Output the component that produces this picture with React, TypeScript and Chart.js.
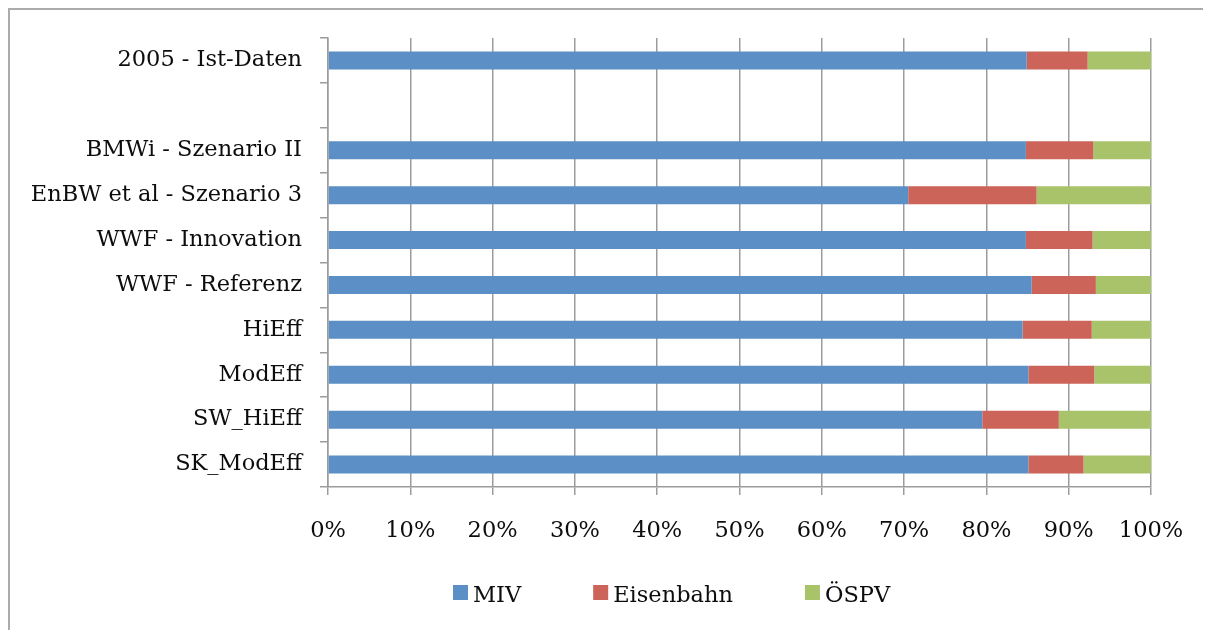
import React, { useEffect, useRef } from "react";
import { Chart, registerables } from "chart.js";

Chart.register(...registerables);

const categories = [
  "2005 - Ist-Daten",
  "",
  "BMWi - Szenario II",
  "EnBW et al - Szenario 3",
  "WWF - Innovation",
  "WWF - Referenz",
  "HiEff",
  "ModEff",
  "SW_HiEff",
  "SK_ModEff",
];

const seriesNames = ["MIV", "Eisenbahn", "ÖSPV"];

const mivValues = [84.9, null, 84.8, 70.5, 84.8, 85.5, 84.4, 85.1, 79.5, 85.1];
const eisenbahnValues = [7.4, null, 8.2, 15.6, 8.1, 7.8, 8.4, 8.0, 9.3, 6.7];
const oespvValues = [7.7, null, 7.0, 13.9, 7.1, 6.7, 7.2, 6.9, 11.2, 8.2];

const xTicks = [0, 10, 20, 30, 40, 50, 60, 70, 80, 90, 100];

const colors = ["#5b8fc6", "#cc6459", "#a9c36b"];

const FONT_FAMILY = '"DejaVu Serif", serif';
const FONT_SIZE = 22.5;
const TEXT_COLOR = "#0d0d0d";
const GRID_COLOR = "#9c9c9c";

const CANVAS_W = 1201;
const CANVAS_H = 620;

const LEGEND_CENTER_X = 661.5;
const LEGEND_BOX_Y = 582.5;
const LEGEND_TEXT_Y = 586;
const LEGEND_BOX = 15;
const LEGEND_TEXT_GAP = 5;
const LEGEND_ITEM_GAP = 72;

const legendPlugin = {
  id: "customLegend",
  afterDraw(chart: any) {
    const ctx = chart.ctx as CanvasRenderingContext2D;
    ctx.save();
    ctx.font = `${FONT_SIZE}px ${FONT_FAMILY}`;
    const items = chart.data.datasets.map((ds: any) => ({
      label: ds.label as string,
      color: ds.backgroundColor as string,
      w: ctx.measureText(ds.label).width,
    }));
    const total =
      items.reduce((s: number, it: any) => s + LEGEND_BOX + LEGEND_TEXT_GAP + it.w, 0) +
      LEGEND_ITEM_GAP * (items.length - 1);
    let x = Math.round(LEGEND_CENTER_X - total / 2);
    ctx.textBaseline = "middle";
    ctx.textAlign = "left";
    for (const it of items) {
      ctx.fillStyle = it.color;
      ctx.fillRect(x, LEGEND_BOX_Y - LEGEND_BOX / 2, LEGEND_BOX, LEGEND_BOX);
      x += LEGEND_BOX + LEGEND_TEXT_GAP;
      ctx.fillStyle = TEXT_COLOR;
      ctx.fillText(it.label, x, LEGEND_TEXT_Y);
      x += it.w + LEGEND_ITEM_GAP;
    }
    ctx.restore();
  },
};

export default function App() {
  const canvasRef = useRef<HTMLCanvasElement | null>(null);

  useEffect(() => {
    document.documentElement.style.overflow = "hidden";
    document.body.style.overflow = "hidden";
    if (!canvasRef.current) return;
    const seriesData = [mivValues, eisenbahnValues, oespvValues];
    const chart = new Chart(canvasRef.current, {
      type: "bar",
      data: {
        labels: categories,
        datasets: seriesNames.map((name, i) => ({
          label: name,
          data: seriesData[i] as any,
          backgroundColor: colors[i],
          borderWidth: 0,
          categoryPercentage: 1,
          barPercentage: 0.4,
        })),
      },
      options: {
        indexAxis: "y",
        responsive: false,
        animation: false,
        layout: { padding: { top: 28, left: 0, right: 60, bottom: 0 } },
        plugins: {
          legend: { display: false },
          tooltip: { enabled: false },
        },
        scales: {
          x: {
            stacked: true,
            min: 0,
            max: 100,
            afterBuildTicks: (scale: any) => {
              scale.ticks = xTicks.map((v) => ({ value: v }));
            },
            afterFit: (scale: any) => {
              scale.height = 143;
            },
            ticks: {
              callback: (v: any) => `${v}%`,
              color: TEXT_COLOR,
              font: { family: FONT_FAMILY, size: FONT_SIZE },
              padding: 23,
              maxRotation: 0,
            },
            grid: {
              color: GRID_COLOR,
              lineWidth: 1.5,
              tickLength: 8,
              drawOnChartArea: true,
            },
            border: { color: GRID_COLOR, width: 1.5 },
          },
          y: {
            stacked: true,
            afterFit: (scale: any) => {
              scale.width = 318;
              scale.paddingTop = 0;
              scale.paddingBottom = 0;
            },
            ticks: {
              color: TEXT_COLOR,
              font: { family: FONT_FAMILY, size: FONT_SIZE },
              padding: 18,
              autoSkip: false,
            },
            grid: {
              offset: true,
              drawOnChartArea: false,
              color: GRID_COLOR,
              lineWidth: 1.5,
              tickLength: 8,
            },
            border: { color: GRID_COLOR, width: 1.5 },
          },
        },
      },
      plugins: [legendPlugin],
    });
    return () => chart.destroy();
  }, []);

  return (
    <div
      style={{
        borderTop: "2px solid #ababab",
        borderLeft: "2px solid #ababab",
        width: 1215,
        height: CANVAS_H,
        background: "#fff",
      }}
    >
      <canvas
        ref={canvasRef}
        width={CANVAS_W}
        height={CANVAS_H}
        style={{ display: "block", width: CANVAS_W, height: CANVAS_H }}
      />
    </div>
  );
}
